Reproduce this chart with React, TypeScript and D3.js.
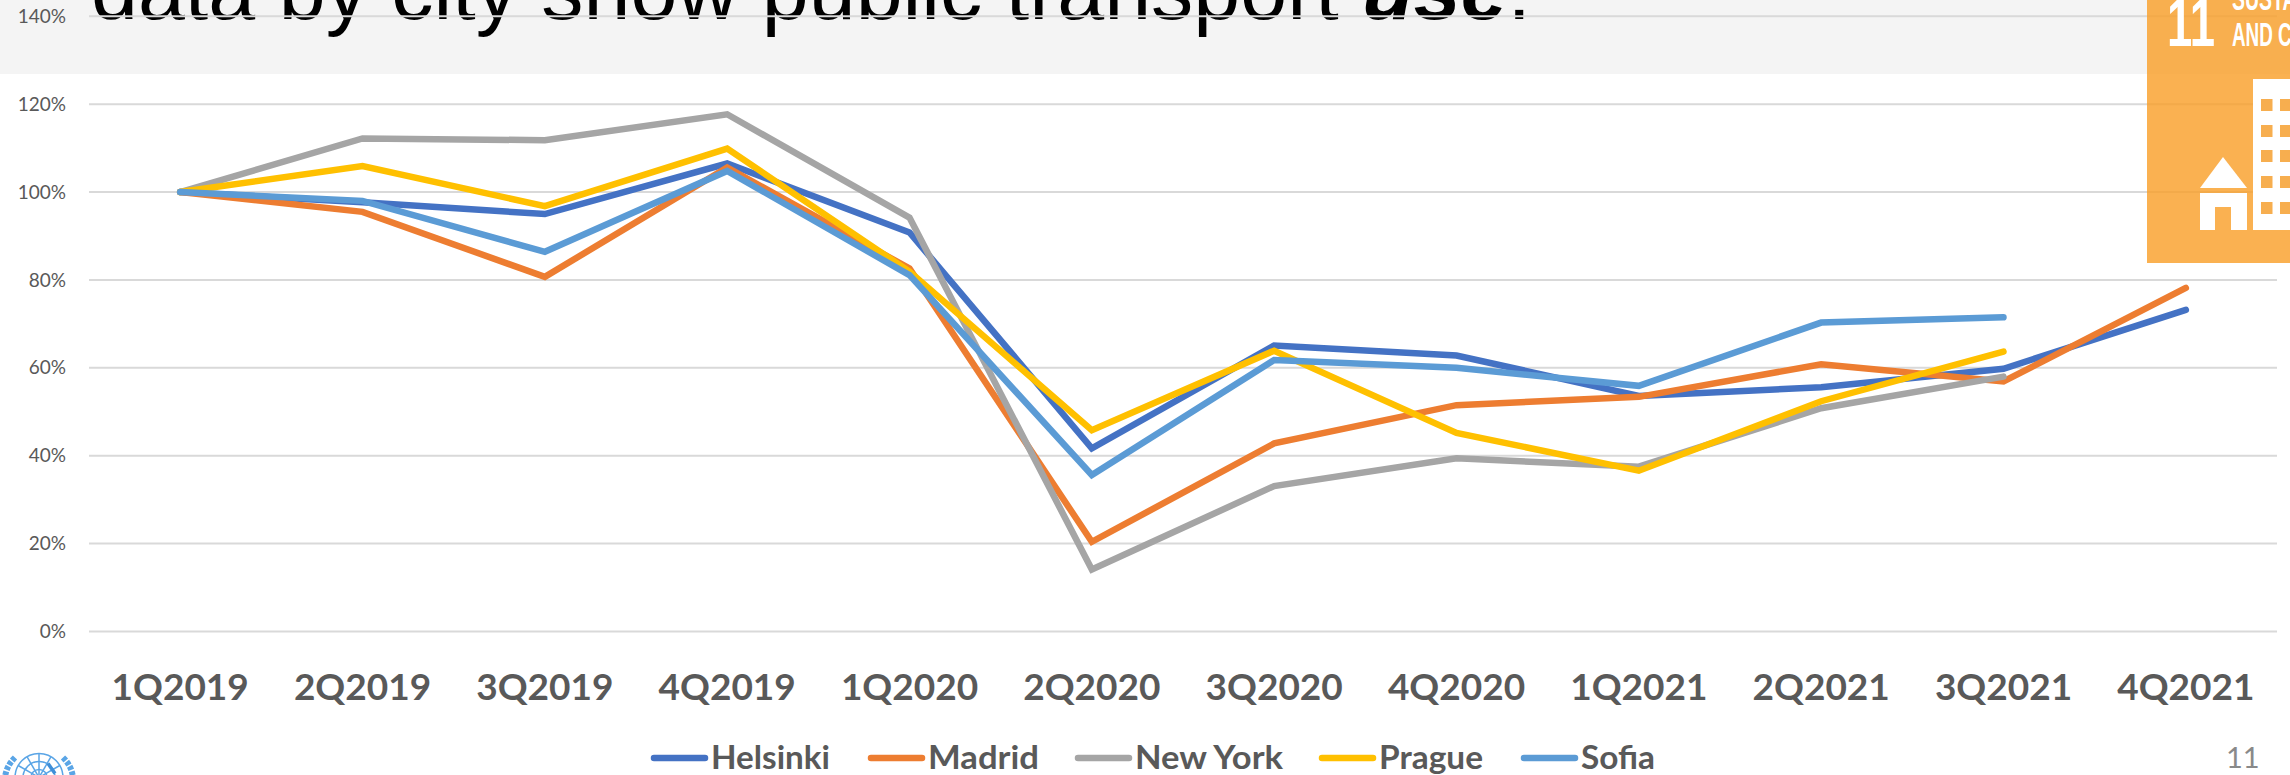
import React, { useEffect, useRef } from 'react';
import * as d3 from 'd3';

const quarters = ['1Q2019', '2Q2019', '3Q2019', '4Q2019', '1Q2020', '2Q2020', '3Q2020', '4Q2020', '1Q2021', '2Q2021', '3Q2021', '4Q2021'];
const helsinki = [100, 97.7, 95.0, 106.5, 90.8, 41.7, 65.1, 62.8, 53.6, 55.6, 59.8, 73.2];
const madrid = [100, 95.5, 80.7, 105.6, 82.6, 20.4, 42.8, 51.5, 53.4, 60.8, 56.9, 78.2];
const newYork = [100, 112.2, 111.8, 117.7, 94.2, 14.1, 33.1, 39.4, 37.5, 50.8, 58.0, null];
const prague = [100, 105.9, 96.8, 109.9, 81.9, 45.8, 63.9, 45.2, 36.6, 52.4, 63.7, null];
const sofia = [100, 98.0, 86.4, 104.8, 81.1, 35.6, 61.8, 60.0, 55.9, 70.3, 71.5, null];
const yTicks = [0, 20, 40, 60, 80, 100, 120, 140];

const seriesNames = ['Helsinki', 'Madrid', 'New York', 'Prague', 'Sofia'];
const seriesValues = [helsinki, madrid, newYork, prague, sofia];
const seriesColors = ['#4472C4', '#ED7D31', '#A5A5A5', '#FFC000', '#5B9BD5'];

// legend swatch left edges, the legend is not evenly spaced
const legendX = [651, 868, 1075, 1319, 1521];
const legendTextWidth = [119, 111, 148, 104, 74];
const windowRows = [99, 125, 150, 176, 202];
const windowCols = [2261, 2280];
const logoRings = [8, 16, 24];
const logoSpokes = [-60, -30, 0, 30, 60];

const WIDTH = 2290;
const HEIGHT = 775;
const LABEL_FONT = 'Lato, sans-serif';
const BADGE_FONT = '"Liberation Sans", sans-serif';
const LOGO_BLUE = '#5AA5E6';

export default function App() {
  const ref = useRef<SVGSVGElement>(null);

  useEffect(() => {
    const svg = d3.select(ref.current);
    svg.selectAll('*').remove();

    const x = d3.scaleBand<string>().domain(quarters).range([89, 2277]);
    const y = d3.scaleLinear().domain([0, 140]).range([631.5, 16.3]);

    // title band sits behind the chart, the chart runs over it
    svg.append('rect').attr('width', WIDTH).attr('height', 74).attr('fill', '#F4F4F4');
    const title = svg.append('text')
      .attr('x', 91).attr('y', 19)
      .attr('font-family', '"Liberation Sans", Arial, sans-serif')
      .attr('font-size', 84.4)
      .attr('fill', '#000');
    title.append('tspan').text('data by city show public transport ');
    title.append('tspan').attr('font-weight', 700).attr('font-style', 'italic').text('use');
    title.append('tspan').text('.');

    const g = svg.append('g');

    g.append('g').selectAll('line')
      .data(yTicks)
      .join('line')
      .attr('x1', 89).attr('x2', 2277)
      .attr('y1', d => y(d)).attr('y2', d => y(d))
      .attr('stroke', '#D9D9D9')
      .attr('stroke-width', 2);

    g.append('g').selectAll('text')
      .data(yTicks)
      .join('text')
      .attr('x', 66)
      .attr('y', d => y(d))
      .attr('dy', '0.35em')
      .attr('text-anchor', 'end')
      .attr('font-family', LABEL_FONT)
      .attr('font-size', 19)
      .attr('fill', '#595959')
      .text(d => d + '%');

    g.append('g').selectAll('text')
      .data(quarters)
      .join('text')
      .attr('x', d => x(d)! + x.bandwidth() / 2)
      .attr('y', 699.5)
      .attr('text-anchor', 'middle')
      .attr('font-family', LABEL_FONT)
      .attr('font-weight', 700)
      .attr('font-size', 37)
      .attr('fill', '#595959')
      .text(d => d);

    const line = d3.line<number | null>()
      .defined(d => d !== null)
      .x((_, i) => x(quarters[i])! + x.bandwidth() / 2)
      .y(d => y(d as number));

    g.append('g').selectAll('path')
      .data(seriesValues)
      .join('path')
      .attr('d', d => line(d))
      .attr('fill', 'none')
      .attr('stroke', (_, i) => seriesColors[i])
      .attr('stroke-width', 6.5)
      .attr('stroke-linecap', 'round')
      .attr('stroke-linejoin', 'miter');

    // legend
    const legend = svg.append('g').selectAll('g')
      .data(seriesNames)
      .join('g')
      .attr('transform', (_, i) => `translate(${legendX[i]},758)`);
    legend.append('line')
      .attr('x1', 3).attr('x2', 54)
      .attr('stroke', (_, i) => seriesColors[i])
      .attr('stroke-width', 6.5)
      .attr('stroke-linecap', 'round');
    legend.append('text')
      .attr('x', 60)
      .attr('y', 11)
      .attr('font-family', LABEL_FONT)
      .attr('font-weight', 700)
      .attr('font-size', 33)
      .attr('fill', '#595959')
      .attr('textLength', (_, i) => legendTextWidth[i])
      .attr('lengthAdjust', 'spacingAndGlyphs')
      .text(d => d);

    svg.append('text')
      .attr('x', 2226).attr('y', 768)
      .attr('font-family', LABEL_FONT)
      .attr('font-size', 29)
      .attr('fill', '#898989')
      .text('11');

    // UN emblem, only its top shows above the bottom edge
    const logo = svg.append('g')
      .attr('transform', 'translate(39,777.5)')
      .attr('fill', 'none')
      .attr('stroke', LOGO_BLUE)
      .attr('stroke-width', 1.5);
    logo.selectAll('circle')
      .data(logoRings)
      .join('circle')
      .attr('r', d => d);
    logo.selectAll('line')
      .data(logoSpokes)
      .join('line')
      .attr('x2', d => 24 * Math.sin((d * Math.PI) / 180))
      .attr('y2', d => -24 * Math.cos((d * Math.PI) / 180));
    logo.append('path')
      .attr('d', 'M9,-14L16,-4')
      .attr('stroke', '#3F8FD8')
      .attr('stroke-width', 3.5);
    logo.append('path')
      .attr('d', 'M-24,-20C-30,-14 -33,-8 -34,0M24,-20C30,-14 33,-8 34,0')
      .attr('stroke-width', 6)
      .attr('stroke-dasharray', '4 1.5');

    // SDG 11 badge, runs off the top and right of the slide
    const badge = svg.append('g');
    badge.append('rect')
      .attr('x', 2147).attr('y', 0).attr('width', 143).attr('height', 263)
      .attr('fill', '#F99D26').attr('opacity', 0.8);
    badge.append('text')
      .attr('x', 2167).attr('y', 46)
      .attr('font-family', BADGE_FONT)
      .attr('font-weight', 700).attr('font-size', 68).attr('fill', '#fff')
      .attr('textLength', 48)
      .attr('lengthAdjust', 'spacingAndGlyphs')
      .text('11');
    badge.append('text')
      .attr('x', 2232).attr('y', 10)
      .attr('font-family', BADGE_FONT)
      .attr('font-weight', 700).attr('font-size', 33).attr('fill', '#fff')
      .attr('textLength', 205)
      .attr('lengthAdjust', 'spacingAndGlyphs')
      .text('SUSTAINABLE CITIES');
    badge.append('text')
      .attr('x', 2232).attr('y', 46)
      .attr('font-family', BADGE_FONT)
      .attr('font-weight', 700).attr('font-size', 33).attr('fill', '#fff')
      .attr('textLength', 180)
      .attr('lengthAdjust', 'spacingAndGlyphs')
      .text('AND COMMUNITIES');
    badge.append('rect').attr('x', 2253).attr('y', 79).attr('width', 37).attr('height', 151).attr('fill', '#fff');
    windowRows.forEach(wy => {
      windowCols.forEach(wx => {
        badge.append('rect').attr('x', wx).attr('y', wy).attr('width', 11.5).attr('height', 12).attr('fill', '#F7AE4F');
      });
    });
    badge.append('path').attr('d', 'M2200,188L2223,157L2247,188Z').attr('fill', '#fff');
    badge.append('path').attr('d', 'M2200,193H2247V230H2231V207H2215V230H2200Z').attr('fill', '#fff');
  }, []);

  return (
    <svg ref={ref} width={WIDTH} height={HEIGHT} style={{ position: 'absolute', left: 0, top: 0, display: 'block' }} />
  );
}
